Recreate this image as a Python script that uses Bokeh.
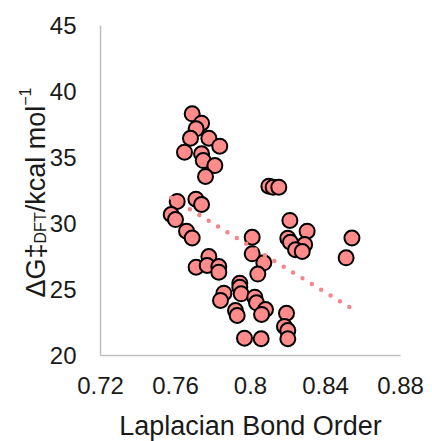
import numpy as np
from bokeh.plotting import figure
from bokeh.models import Range1d, FixedTicker, Label, LinearAxis
from bokeh.embed import file_html
from bokeh.resources import INLINE

# Laplacian bond order (x) vs DFT barrier (y)
lbo = [0.7689, 0.7739, 0.7710, 0.7680, 0.7778, 0.7836, 0.7648, 0.7739, 0.7748, 0.7810, 0.7760,
       0.8098, 0.8121, 0.8151,
       0.7609, 0.7709, 0.7739, 0.7577, 0.7600, 0.7659, 0.7689,
       0.8009, 0.8009, 0.8071, 0.8039,
       0.8210, 0.8302, 0.8199, 0.8213, 0.8289, 0.8240, 0.8276, 0.8541, 0.8510,
       0.7710, 0.7778, 0.7769, 0.7831, 0.7831,
       0.7943, 0.7943, 0.7950, 0.7858, 0.7840, 0.8023, 0.8032, 0.8080, 0.8059, 0.7920,
       0.7929, 0.8192, 0.8181, 0.8199, 0.8199, 0.7968, 0.8057]
dg_dft = [38.31, 37.60, 37.17, 36.46, 36.46, 35.86, 35.40, 35.28, 34.77, 34.39, 33.56,
          32.83, 32.75, 32.75,
          31.67, 31.84, 31.44, 30.68, 30.30, 29.42, 28.90,
          28.96, 27.70, 27.02, 26.17,
          30.23, 29.42, 28.89, 28.58, 28.41, 28.01, 27.88, 28.90, 27.40,
          26.69, 27.50, 26.82, 26.74, 26.31,
          25.48, 25.17, 24.67, 24.72, 24.17, 24.42, 23.99, 23.48, 23.11, 23.41,
          23.03, 23.20, 22.20, 21.89, 21.27, 21.31, 21.27]

x_ticks = [0.72, 0.76, 0.80, 0.84, 0.88]
x_tick_labels = ["0.72", "0.76", "0.8", "0.84", "0.88"]
y_ticks = [20, 25, 30, 35, 40, 45]
x_title = "Laplacian Bond Order"

FONT = "Liberation Sans"
X0, X1, Y0, Y1 = 0.72, 0.88, 20, 45
AX_W, AX_H = 300, 330                 # pixel size of the axes box
LEFT, RIGHT, TOP, BOTTOM = 100, 32, 25, 86
px_x = (X1 - X0) / AX_W               # data units per pixel
px_y = (Y1 - Y0) / AX_H

p = figure(width=432, height=441, output_backend="svg", toolbar_location=None,
           x_range=Range1d(X0 - LEFT * px_x, X1 + RIGHT * px_x),
           y_range=Range1d(Y0 - BOTTOM * px_y, Y1 + TOP * px_y),
           x_axis_location=None, y_axis_location=None,
           min_border=0)
p.outline_line_color = None
p.grid.visible = False
p.background_fill_color = "white"

# scatter
p.scatter(lbo, dg_dft, size=15, fill_color="#FF8B8B", line_color="black", line_width=2)

# linear trendline (least squares)
xa = np.array(lbo)
ya = np.array(dg_dft)
m, b = np.polyfit(xa, ya, 1)
tx = np.array([xa.min(), xa.max()])
p.line(tx, m * tx + b, line_color="#F5868A", line_width=4.5, line_dash="0 11", line_cap="round")

xaxis = LinearAxis(fixed_location=Y0, bounds=(X0, X1), ticker=FixedTicker(ticks=x_ticks))
yaxis = LinearAxis(fixed_location=X0, bounds=(Y0, Y1), ticker=FixedTicker(ticks=y_ticks))
for ax in (xaxis, yaxis):
    ax.axis_line_color = "#BFBFBF"
    ax.axis_line_width = 1.5
    ax.major_tick_line_color = None
    ax.minor_tick_line_color = None
    ax.major_tick_out = 0
    ax.major_tick_in = 0
    ax.major_label_text_font = FONT
    ax.major_label_text_font_size = "24px"
    ax.major_label_text_color = "#1a1a1a"
xaxis.major_label_overrides = {t: s for t, s in zip(x_ticks, x_tick_labels)}
xaxis.major_label_standoff = 21
yaxis.major_label_standoff = 24
p.add_layout(xaxis, "below")
p.add_layout(yaxis, "left")

# x-axis title
p.add_layout(Label(x=(X0 + X1) / 2, y=Y0 - 70 * px_y, text=x_title,
                   text_font=FONT, text_font_size="27px", text_color="#1a1a1a",
                   text_align="center", text_baseline="alphabetic"))

# y-axis title pieces (rotated)
main_fs, small_fs = 27, 16
pieces = [
    ("ΔG‡", main_fs, 0, 2.002 * main_fs),
    ("DFT", small_fs, 5, 1.944 * small_fs),
    ("/kcal mol", main_fs, 0, 3.945 * main_fs),
    ("−1", small_fs, -11, 1.14 * small_fs),
]
offset = 58  # px above the x axis
for txt, fs, dx, w in pieces:
    p.add_layout(Label(x=X0 + (-65 + dx) * px_x, y=Y0 + offset * px_y, text=txt,
                       angle=np.pi / 2, text_font=FONT, text_font_size=f"{fs}px",
                       text_color="#1a1a1a", text_align="left", text_baseline="alphabetic"))
    offset += w

open("out.html", "w").write(file_html(p, INLINE))
